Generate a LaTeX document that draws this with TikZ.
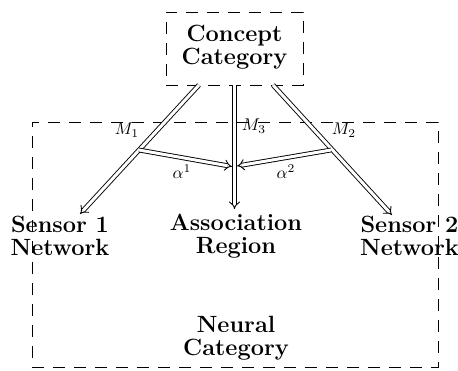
\documentclass[tikz,border=0pt]{standalone}
\usepackage{graphicx}
\usetikzlibrary{arrows.meta}
\begin{document}
\begin{tikzpicture}[x=1pt,y=-1pt,
  lbl/.style={font=\fontsize{23.5}{23}\selectfont\bfseries, align=center, inner sep=0pt},
  mlbl/.style={inner sep=0pt},
  dbox/.style={draw, line width=0.9pt, dash pattern=on 12pt off 9pt, inner sep=0pt},
  dbl/.style={double, double distance=3pt, line width=0.9pt, -{Implies}, shorten >=0pt}]
\useasboundingbox (0,0) rectangle (458,370);
% boxes
\node[dbox, minimum width=137pt, minimum height=73pt] (concept) at (234.5,48.5) {};
\node[dbox, minimum width=406pt, minimum height=245pt] (neural) at (235,244.5) {};
% texts
\node[lbl] (concepttxt) at (234.5,47.5) {Concept\\Category};
\node[lbl] (sensor1) at (60,235.5) {Sensor 1\\Network};
\node[lbl] (assoc) at (236,236) {Association\\Region};
\node[lbl] (sensor2) at (409.5,235.5) {Sensor 2\\Network};
\node[lbl] (neuraltxt) at (236,338) {Neural\\Category};
% connector points
\coordinate (s1) at (199,85);
\coordinate (s3) at (234.5,85);
\coordinate (s2) at (273,85);
\coordinate (t1) at (80,214);
\coordinate (t3) at (234.5,209);
\coordinate (t2) at (392,215);
\coordinate (a1s) at (139,150);
\coordinate (a2s) at (331,150);
\coordinate (a1t) at (232,166.5);
\coordinate (a2t) at (237,166);
\draw[dbl] (s1) -- (t1);
\draw[dbl] (s3) -- (t3);
\draw[dbl] (s2) -- (t2);
\draw[dbl] (a1s) -- (a1t);
\draw[dbl] (a2s) -- (a2t);
% labels
\node[mlbl] (m1) at (127,130) {\scalebox{1.7}{$M_1$}};
\node[mlbl] (m3) at (254,126) {\scalebox{1.7}{$M_3$}};
\node[mlbl] (m2) at (344,130) {\scalebox{1.7}{$M_2$}};
\node[mlbl] (al1) at (182,172) {\scalebox{1.7}{$\alpha^1$}};
\node[mlbl] (al2) at (286,172) {\scalebox{1.7}{$\alpha^2$}};
\end{tikzpicture}
\end{document}
